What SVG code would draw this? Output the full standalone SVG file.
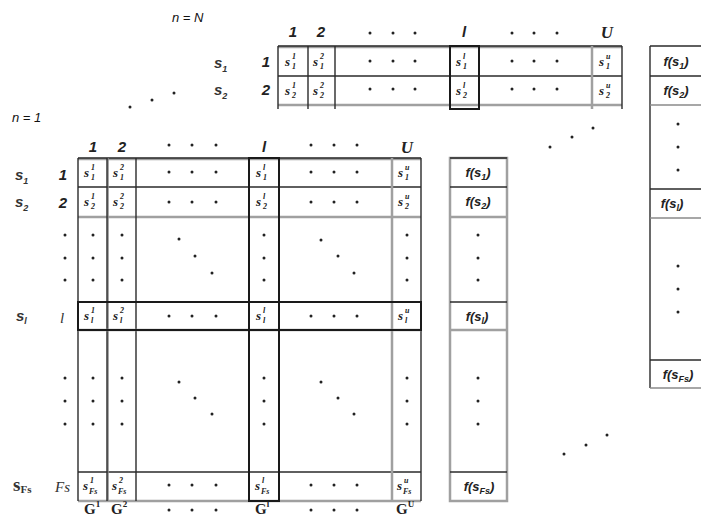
<svg xmlns="http://www.w3.org/2000/svg" width="701" height="517" viewBox="0 0 701 517">
<style>
.bg{fill:#fff}
.dk{stroke:#2a2a2a;stroke-width:1.4;fill:none}
.dk2{stroke:#1a1a1a;stroke-width:2;fill:none}
.gr{stroke:#a0a0a0;stroke-width:2.5;fill:none}
.gt{stroke:#8a8a8a;stroke-width:1.5;fill:none}
.hd{font-family:"Liberation Sans",Arial,sans-serif;font-style:italic;font-weight:bold;font-size:15px;fill:#222;text-anchor:middle}
.hu{font-family:"Liberation Serif","Times New Roman",serif;font-style:italic;font-weight:bold;font-size:17px;fill:#222;text-anchor:middle}
.nn{font-family:"Liberation Sans",Arial,sans-serif;font-style:italic;font-size:13px;fill:#111}
.rl{font-family:"Liberation Sans",Arial,sans-serif;font-style:italic;font-weight:bold;font-size:15px;fill:#333}
.rs{font-family:"Liberation Serif","Times New Roman",serif;font-weight:bold;font-size:19px;fill:#333}
.rss{font-size:11px}
.ri{font-family:"Liberation Serif","Times New Roman",serif;font-style:italic;font-size:15px;fill:#333}
.sub{font-size:9px}
.c{font-family:"Liberation Serif","Times New Roman",serif;font-style:italic;font-weight:bold;font-size:13px;fill:#222}
.cs{font-family:"Liberation Serif","Times New Roman",serif;font-style:italic;font-weight:bold;font-size:8px;fill:#222}
.f{font-family:"Liberation Sans",Arial,sans-serif;font-style:italic;font-weight:bold;font-size:13px;fill:#222;text-anchor:middle}
.g{font-family:"Liberation Serif","Times New Roman",serif;font-weight:bold;font-size:15px;fill:#222}
.gs{font-size:9px}
.d{fill:#222}
</style>
<defs>
<circle id="dot" r="1.5" class="d"/>
</defs>
<rect class="bg" x="0" y="0" width="701" height="517"/>

<g id="labels-n">
<text class="nn" x="172" y="22">n = N</text>
<text class="nn" x="12" y="122">n = 1</text>
</g>

<g id="back-matrix">
<g id="back-grid">
<line class="gr" x1="278" y1="47" x2="622" y2="47"/>
<line class="dk" x1="278" y1="46" x2="622" y2="46"/>
<line class="dk" x1="278" y1="76" x2="622" y2="76"/>
<line class="gr" x1="278" y1="105" x2="622" y2="105"/>
<line class="dk" x1="278" y1="46" x2="278" y2="109"/>
<line class="dk" x1="308" y1="46" x2="308" y2="109"/>
<line class="dk" x1="335" y1="46" x2="335" y2="109"/>
<line class="gr" x1="592" y1="46" x2="592" y2="109"/>
<line class="dk" x1="622" y1="46" x2="622" y2="109"/>
<rect class="dk2" x="450" y="46" width="29" height="63"/>
</g>
<g id="back-header">
<text class="hd" x="293" y="37">1</text>
<text class="hd" x="321" y="37">2</text>
<text class="hd" x="464" y="37">l</text>
<text class="hu" x="607" y="38">U</text>
<use href="#dot" x="370" y="33"/><use href="#dot" x="393" y="33"/><use href="#dot" x="415" y="33"/>
<use href="#dot" x="512" y="33"/><use href="#dot" x="534" y="33"/><use href="#dot" x="557" y="33"/>
</g>
<g id="back-rowlabels">
<text class="rl" x="214" y="68">s<tspan class="sub" dy="4">1</tspan></text>
<text class="rl" x="214" y="95">s<tspan class="sub" dy="4">2</tspan></text>
<text class="hd" x="266" y="67">1</text>
<text class="hd" x="266" y="95">2</text>
</g>
<g id="back-cells">
<text class="c" x="285" y="66">s</text><text class="cs" x="292" y="59">1</text><text class="cs" x="292" y="69">1</text>
<text class="c" x="313" y="66">s</text><text class="cs" x="320" y="59">2</text><text class="cs" x="320" y="69">1</text>
<text class="c" x="456" y="66">s</text><text class="cs" x="463" y="59">l</text><text class="cs" x="463" y="69">1</text>
<text class="c" x="599" y="66">s</text><text class="cs" x="606" y="59">u</text><text class="cs" x="606" y="69">1</text>
<text class="c" x="285" y="95">s</text><text class="cs" x="292" y="88">1</text><text class="cs" x="292" y="98">2</text>
<text class="c" x="313" y="95">s</text><text class="cs" x="320" y="88">2</text><text class="cs" x="320" y="98">2</text>
<text class="c" x="456" y="95">s</text><text class="cs" x="463" y="88">l</text><text class="cs" x="463" y="98">2</text>
<text class="c" x="599" y="95">s</text><text class="cs" x="606" y="88">u</text><text class="cs" x="606" y="98">2</text>
<use href="#dot" x="370" y="61"/><use href="#dot" x="393" y="61"/><use href="#dot" x="415" y="61"/>
<use href="#dot" x="512" y="61"/><use href="#dot" x="534" y="61"/><use href="#dot" x="557" y="61"/>
<use href="#dot" x="370" y="89"/><use href="#dot" x="393" y="89"/><use href="#dot" x="415" y="89"/>
<use href="#dot" x="512" y="89"/><use href="#dot" x="534" y="89"/><use href="#dot" x="557" y="89"/>
</g>
<g id="back-f">
<line class="dk" x1="650" y1="46" x2="650" y2="388"/>
<line class="dk" x1="650" y1="46" x2="701" y2="46"/>
<line class="dk" x1="650" y1="76" x2="701" y2="76"/>
<line class="gt" x1="650" y1="105" x2="701" y2="105"/>
<line class="dk" x1="650" y1="189" x2="701" y2="189"/>
<line class="gt" x1="650" y1="218" x2="701" y2="218"/>
<line class="dk" x1="650" y1="360" x2="701" y2="360"/>
<line class="gt" x1="650" y1="388" x2="701" y2="388"/>
<text class="f" x="676" y="66">f(s<tspan class="sub" dy="3">1</tspan><tspan dy="-3">)</tspan></text>
<text class="f" x="676" y="95">f(s<tspan class="sub" dy="3">2</tspan><tspan dy="-3">)</tspan></text>
<text class="f" x="672" y="208">f(s<tspan class="sub" dy="3">l</tspan><tspan dy="-3">)</tspan></text>
<text class="f" x="678" y="379">f(s<tspan class="sub" dy="3">Fs</tspan><tspan dy="-3">)</tspan></text>
<use href="#dot" x="678" y="124"/><use href="#dot" x="678" y="147"/><use href="#dot" x="678" y="170"/>
<use href="#dot" x="678" y="266"/><use href="#dot" x="678" y="289"/><use href="#dot" x="678" y="312"/>
</g>
</g>

<g id="between-dots">
<use href="#dot" x="130" y="107"/><use href="#dot" x="152" y="100"/><use href="#dot" x="174" y="93"/>
<use href="#dot" x="550" y="147"/><use href="#dot" x="572" y="137"/><use href="#dot" x="593" y="128"/>
<use href="#dot" x="564" y="454"/><use href="#dot" x="586" y="445"/><use href="#dot" x="607" y="435"/>
</g>

<g id="front-matrix">
<g id="front-grid">
<line class="gr" x1="78" y1="159" x2="421" y2="159"/>
<line class="dk" x1="78" y1="158" x2="421" y2="158"/>
<line class="dk" x1="78" y1="187" x2="421" y2="187"/>
<line class="gr" x1="78" y1="217" x2="421" y2="217"/>
<line class="dk" x1="78" y1="472" x2="421" y2="472"/>
<line class="gr" x1="78" y1="501" x2="421" y2="501"/>
<line class="dk" x1="78" y1="158" x2="78" y2="501"/>
<line class="gt" x1="108" y1="158" x2="108" y2="501"/>
<line class="dk" x1="107" y1="158" x2="107" y2="501"/>
<line class="dk" x1="136" y1="158" x2="136" y2="501"/>
<line class="gr" x1="392" y1="158" x2="392" y2="501"/>
<line class="dk" x1="421" y1="158" x2="421" y2="501"/>
<line class="gr" x1="78" y1="330" x2="421" y2="330"/>
<rect class="dk2" x="78" y="302" width="343" height="28"/>
<rect class="dk2" x="249" y="158" width="30" height="343"/>
</g>
<g id="front-header">
<text class="hd" x="93" y="152">1</text>
<text class="hd" x="122" y="152">2</text>
<text class="hd" x="264" y="152">l</text>
<text class="hu" x="407" y="153">U</text>
<use href="#dot" x="169" y="145"/><use href="#dot" x="192" y="145"/><use href="#dot" x="216" y="145"/>
<use href="#dot" x="311" y="145"/><use href="#dot" x="334" y="145"/><use href="#dot" x="357" y="145"/>
</g>
<g id="front-rowlabels">
<text class="rl" x="15" y="180">s<tspan class="sub" dy="4">1</tspan></text>
<text class="rl" x="15" y="207">s<tspan class="sub" dy="4">2</tspan></text>
<text class="hd" x="63" y="180">1</text>
<text class="hd" x="63" y="208">2</text>
<text class="rl" x="16" y="321">s<tspan class="sub" dy="3">l</tspan></text>
<text class="ri" x="60" y="323">l</text>
<text class="rs" x="13" y="491">s<tspan class="rss" dy="2">Fs</tspan></text>
<text class="ri" x="55" y="492">Fs</text>
</g>
<g id="front-cells">
<text class="c" x="84" y="177">s</text><text class="cs" x="91" y="170">1</text><text class="cs" x="91" y="180">1</text>
<text class="c" x="113" y="177">s</text><text class="cs" x="120" y="170">2</text><text class="cs" x="120" y="180">1</text>
<text class="c" x="256" y="177">s</text><text class="cs" x="263" y="170">l</text><text class="cs" x="263" y="180">1</text>
<text class="c" x="398" y="177">s</text><text class="cs" x="405" y="170">u</text><text class="cs" x="405" y="180">1</text>

<text class="c" x="84" y="206">s</text><text class="cs" x="91" y="199">1</text><text class="cs" x="91" y="209">2</text>
<text class="c" x="113" y="206">s</text><text class="cs" x="120" y="199">2</text><text class="cs" x="120" y="209">2</text>
<text class="c" x="256" y="206">s</text><text class="cs" x="263" y="199">l</text><text class="cs" x="263" y="209">2</text>
<text class="c" x="398" y="206">s</text><text class="cs" x="405" y="199">u</text><text class="cs" x="405" y="209">2</text>

<text class="c" x="84" y="320">s</text><text class="cs" x="91" y="313">1</text><text class="cs" x="91" y="323">l</text>
<text class="c" x="113" y="320">s</text><text class="cs" x="120" y="313">2</text><text class="cs" x="120" y="323">l</text>
<text class="c" x="256" y="320">s</text><text class="cs" x="263" y="313">l</text><text class="cs" x="263" y="323">l</text>
<text class="c" x="398" y="320">s</text><text class="cs" x="405" y="313">u</text><text class="cs" x="405" y="323">l</text>

<text class="c" x="83" y="490">s</text><text class="cs" x="90" y="483">1</text><text class="cs" x="89" y="494">Fs</text>
<text class="c" x="112" y="490">s</text><text class="cs" x="119" y="483">2</text><text class="cs" x="118" y="494">Fs</text>
<text class="c" x="255" y="490">s</text><text class="cs" x="262" y="483">l</text><text class="cs" x="261" y="494">Fs</text>
<text class="c" x="397" y="490">s</text><text class="cs" x="404" y="483">u</text><text class="cs" x="403" y="494">Fs</text>

<use href="#dot" x="169" y="172"/><use href="#dot" x="192" y="172"/><use href="#dot" x="216" y="172"/>
<use href="#dot" x="311" y="172"/><use href="#dot" x="334" y="172"/><use href="#dot" x="357" y="172"/>
<use href="#dot" x="169" y="202"/><use href="#dot" x="192" y="202"/><use href="#dot" x="216" y="202"/>
<use href="#dot" x="311" y="202"/><use href="#dot" x="334" y="202"/><use href="#dot" x="357" y="202"/>
<use href="#dot" x="169" y="316"/><use href="#dot" x="192" y="316"/><use href="#dot" x="216" y="316"/>
<use href="#dot" x="311" y="316"/><use href="#dot" x="334" y="316"/><use href="#dot" x="357" y="316"/>
<use href="#dot" x="169" y="485"/><use href="#dot" x="192" y="485"/><use href="#dot" x="216" y="485"/>
<use href="#dot" x="311" y="485"/><use href="#dot" x="334" y="485"/><use href="#dot" x="357" y="485"/>
</g>
<g id="front-vdots">
<use href="#dot" x="65" y="235"/><use href="#dot" x="65" y="258"/><use href="#dot" x="65" y="280"/>
<use href="#dot" x="93" y="235"/><use href="#dot" x="93" y="258"/><use href="#dot" x="93" y="280"/>
<use href="#dot" x="122" y="235"/><use href="#dot" x="122" y="258"/><use href="#dot" x="122" y="280"/>
<use href="#dot" x="264" y="235"/><use href="#dot" x="264" y="258"/><use href="#dot" x="264" y="280"/>
<use href="#dot" x="407" y="235"/><use href="#dot" x="407" y="258"/><use href="#dot" x="407" y="280"/>
<use href="#dot" x="478" y="235"/><use href="#dot" x="478" y="258"/><use href="#dot" x="478" y="280"/>
<use href="#dot" x="179" y="239"/><use href="#dot" x="195" y="256"/><use href="#dot" x="212" y="273"/>
<use href="#dot" x="321" y="240"/><use href="#dot" x="338" y="256"/><use href="#dot" x="354" y="273"/>

<use href="#dot" x="65" y="378"/><use href="#dot" x="65" y="401"/><use href="#dot" x="65" y="424"/>
<use href="#dot" x="93" y="378"/><use href="#dot" x="93" y="401"/><use href="#dot" x="93" y="424"/>
<use href="#dot" x="122" y="378"/><use href="#dot" x="122" y="401"/><use href="#dot" x="122" y="424"/>
<use href="#dot" x="264" y="378"/><use href="#dot" x="264" y="401"/><use href="#dot" x="264" y="424"/>
<use href="#dot" x="407" y="378"/><use href="#dot" x="407" y="401"/><use href="#dot" x="407" y="424"/>
<use href="#dot" x="478" y="378"/><use href="#dot" x="478" y="401"/><use href="#dot" x="478" y="424"/>
<use href="#dot" x="179" y="382"/><use href="#dot" x="195" y="398"/><use href="#dot" x="212" y="414"/>
<use href="#dot" x="321" y="382"/><use href="#dot" x="338" y="398"/><use href="#dot" x="354" y="414"/>
</g>
<g id="front-f">
<rect class="gr" x="450" y="158" width="57" height="343"/>
<line class="dk" x1="450" y1="158" x2="507" y2="158"/>
<line class="dk" x1="450" y1="187" x2="507" y2="187"/>
<line class="gr" x1="450" y1="217" x2="507" y2="217"/>
<line class="dk" x1="450" y1="302" x2="507" y2="302"/>
<line class="gr" x1="450" y1="330" x2="507" y2="330"/>
<line class="dk" x1="450" y1="472" x2="507" y2="472"/>
<text class="f" x="478" y="177">f(s<tspan class="sub" dy="3">1</tspan><tspan dy="-3">)</tspan></text>
<text class="f" x="478" y="206">f(s<tspan class="sub" dy="3">2</tspan><tspan dy="-3">)</tspan></text>
<text class="f" x="477" y="321">f(s<tspan class="sub" dy="3">l</tspan><tspan dy="-3">)</tspan></text>
<text class="f" x="479" y="491">f(s<tspan class="sub" dy="3">Fs</tspan><tspan dy="-3">)</tspan></text>
</g>
<g id="front-footer">
<text class="g" x="84" y="514">G<tspan class="gs" dy="-7">1</tspan></text>
<text class="g" x="111" y="514">G<tspan class="gs" dy="-7">2</tspan></text>
<text class="g" x="255" y="514">G<tspan class="gs" dy="-7">l</tspan></text>
<text class="g" x="396" y="514">G<tspan class="gs" dy="-7">U</tspan></text>
<use href="#dot" x="169" y="510"/><use href="#dot" x="192" y="510"/><use href="#dot" x="216" y="510"/>
<use href="#dot" x="311" y="510"/><use href="#dot" x="334" y="510"/><use href="#dot" x="357" y="510"/>
</g>
</g>
</svg>
